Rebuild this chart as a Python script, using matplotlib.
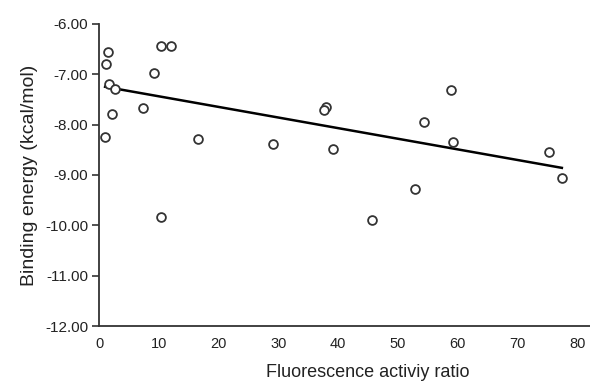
import matplotlib
matplotlib.use("Agg")
import matplotlib.pyplot as plt

ratio = [1.0, 1.5, 1.2, 1.7, 2.7, 2.2, 7.4, 9.1, 10.3, 12.1, 10.4, 16.6, 29.0,
         37.9, 37.6, 39.1, 45.7, 52.8, 54.3, 58.8, 59.2, 75.2, 77.4]
energy = [-8.24, -6.56, -6.80, -7.19, -7.29, -7.79, -7.67, -6.98, -6.44, -6.44,
          -9.84, -8.29, -8.38, -7.65, -7.71, -8.49, -9.90, -9.28, -7.95, -7.31,
          -8.35, -8.55, -9.06]
trend_x = [1.0, 77.4]
trend_y = [-7.25, -8.86]
xticks = [0, 10, 20, 30, 40, 50, 60, 70, 80]
yticks = [-6, -7, -8, -9, -10, -11, -12]

plt.rcParams['font.family'] = ['Liberation Sans', 'DejaVu Sans']
fig = plt.figure(figsize=(5.9, 3.84), dpi=100)
# axes run past the right edge of the figure (the original is cropped there)
ax = fig.add_axes([0.168, 0.151, 0.912, 0.787])

ax.plot(trend_x, trend_y, color='black', lw=1.8, zorder=2)
ax.scatter(ratio, energy, s=40, facecolors='white', edgecolors='#333333',
           linewidths=1.3, zorder=3)

ax.set_xlim(0, 90)
ax.set_ylim(-12, -6)
ax.set_xticks(xticks)
ax.set_yticks(yticks)
ax.set_yticklabels([f"{v:.2f}" for v in yticks])
ax.tick_params(axis='x', length=0, pad=8, labelsize=10.5, colors='#222222')
ax.tick_params(axis='y', length=5, width=1.2, pad=3, labelsize=11, colors='#333333',
               labelcolor='#222222')
for s in ['top', 'right']:
    ax.spines[s].set_visible(False)
for s in ['left', 'bottom']:
    ax.spines[s].set_linewidth(1.3)
    ax.spines[s].set_color('#333333')
ax.set_xlabel('Fluorescence activiy ratio', fontsize=13, labelpad=9, color='#222222')
ax.set_ylabel('Binding energy (kcal/mol)', fontsize=14, labelpad=5, color='#222222')

fig.savefig('out.png', dpi=100)
